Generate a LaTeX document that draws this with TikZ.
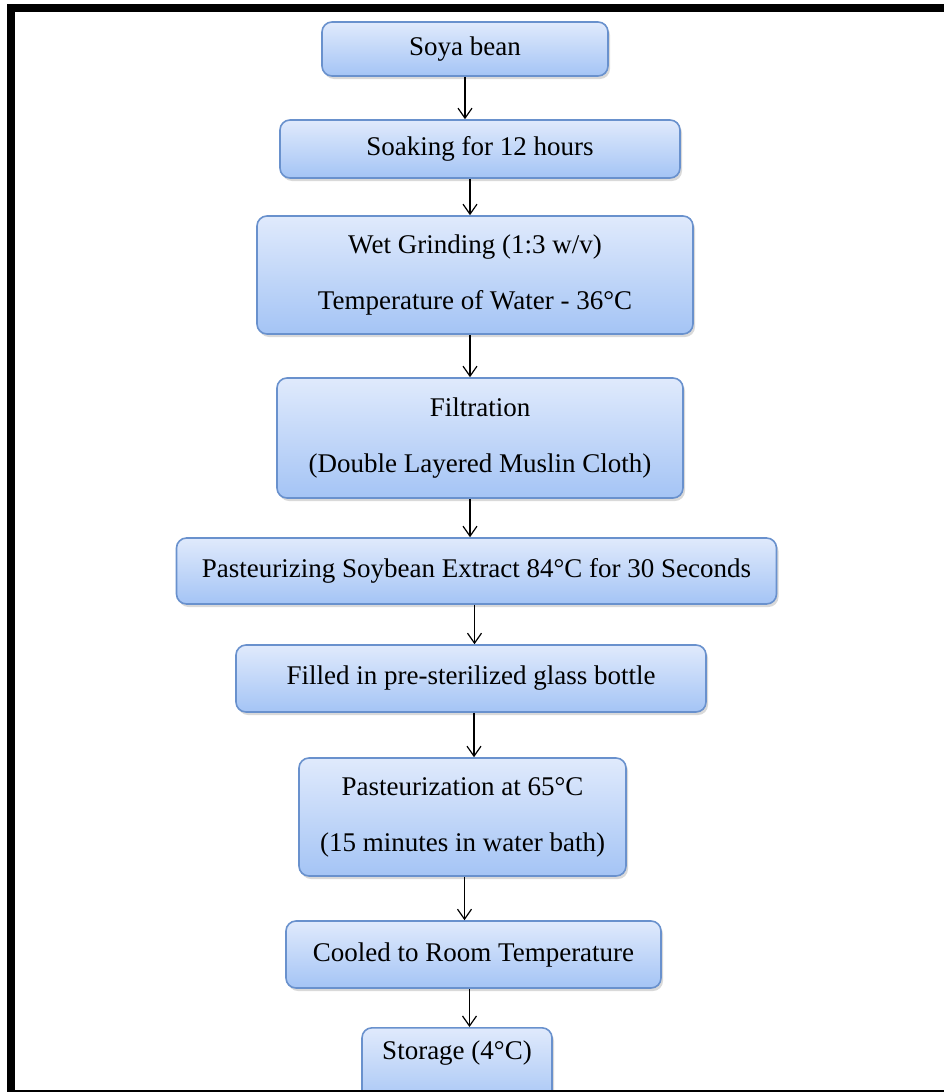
\documentclass[tikz,border=0pt]{standalone}
\usepackage{fontspec}
\setmainfont{Liberation Serif}
\usetikzlibrary{arrows.meta,shadows}
\definecolor{stagetop}{RGB}{224,234,252}
\definecolor{stagebot}{RGB}{164,196,245}
\definecolor{stageline}{RGB}{105,145,205}
\begin{document}
\begin{tikzpicture}[x=0.5pt,y=-0.5pt,
  stage/.style={draw=stageline,line width=0.8pt,rounded corners=5pt,
    top color=stagetop,bottom color=stagebot,
    drop shadow={opacity=0.3,shadow xshift=1pt,shadow yshift=-1.5pt},
    align=center,inner sep=0pt,font=\fontsize{13.5}{16}\selectfont},
  flow/.style={-{Straight Barb[length=5pt,width=7pt]},line width=0.6pt}]
  \useasboundingbox (0,0) rectangle (944,1092);

  \node[stage,minimum width=143pt,minimum height=27pt] (soya) at (465,49) {Soya bean};
  \node[stage,minimum width=200pt,minimum height=29pt] (soak) at (480,149) {Soaking for 12 hours};
  \node[stage,minimum width=218pt,minimum height=59pt] (grind) at (475,275)
    {Wet Grinding (1:3 w/v)\\[12pt]Temperature of Water - 36°C};
  \node[stage,minimum width=203pt,minimum height=60pt] (filter) at (480,438)
    {Filtration\\[12pt](Double Layered Muslin Cloth)};
  \node[stage,minimum width=300pt,minimum height=33pt] (extract) at (476.5,571)
    {Pasteurizing Soybean Extract 84°C for 30 Seconds};
  \node[stage,minimum width=235pt,minimum height=33.5pt] (bottle) at (471,678.5)
    {Filled in pre-sterilized glass bottle};
  \node[stage,minimum width=163.5pt,minimum height=59pt] (bath) at (462.5,817)
    {Pasteurization at 65°C\\[12pt](15 minutes in water bath)};
  \node[stage,minimum width=187.5pt,minimum height=33.5pt] (cool) at (473.5,954.5)
    {Cooled to Room Temperature};
  \node[stage,minimum width=95pt,text height=16pt,text depth=24pt,anchor=north] (store) at (457,1027)
    {Storage (4°C)};

  \draw[flow] (soya.south) -- (soya.south |- soak.north);
  \draw[flow] ([xshift=-5pt]soak.south) -- ([xshift=-5pt]soak.south |- grind.north);
  \draw[flow] ([xshift=-2.5pt]grind.south) -- ([xshift=-2.5pt]grind.south |- filter.north);
  \draw[flow] ([xshift=-5pt]filter.south) -- ([xshift=-5pt]filter.south |- extract.north);
  \draw[flow] ([xshift=-1pt]extract.south) -- ([xshift=-1pt]extract.south |- bottle.north);
  \draw[flow] ([xshift=1.5pt]bottle.south) -- ([xshift=1.5pt]bottle.south |- bath.north);
  \draw[flow] ([xshift=1pt]bath.south) -- ([xshift=1pt]bath.south |- cool.north);
  \draw[flow] ([xshift=-2pt]cool.south) -- ([xshift=-2pt]cool.south |- store.north);

  % frame, cut at right and bottom
  \draw[line width=4pt] (10.5,1092) -- (10.5,8) -- (944,8);
  \draw[line width=1pt] (10.5,1091) -- (944,1091);
\end{tikzpicture}
\end{document}
